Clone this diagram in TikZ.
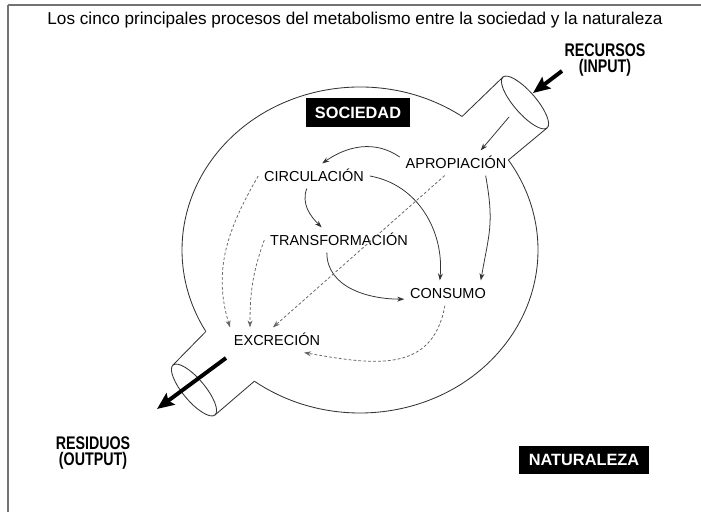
\documentclass[tikz,border=0pt]{standalone}
\usepackage{fontspec}
\setmainfont{Liberation Sans}
\newfontfamily\narrowsf[FakeStretch=0.78]{Liberation Sans}
\usetikzlibrary{arrows.meta,calc}

\begin{document}
\begin{tikzpicture}[x=0.025cm,y=0.025cm]
\tikzstyle{proc}=[inner xsep=4pt,inner ysep=5pt,text height=7.5pt,text depth=0pt,font=\fontsize{10.3}{12}\selectfont]
\tikzstyle{tag}=[fill=black,text=white,inner sep=0pt,font=\fontsize{11.6}{13}\selectfont\bfseries]
\tikzstyle{label}=[align=center,font=\narrowsf\bfseries\fontsize{13}{12}\selectfont]
\tikzstyle{procarrow}=[-{Stealth[length=5pt,width=3.5pt]},line width=0.55pt,black!80]
\tikzstyle{wastearrow}=[procarrow,dash pattern=on 2pt off 1.5pt,black!60]
\tikzstyle{bigarrow}=[-{Stealth[length=12pt,width=10pt,inset=2pt]},line width=2.8pt]
\tikzstyle{pipe}=[line width=0.6pt,black!80]
\useasboundingbox (0,0) rectangle (701,512);

% frame
\draw[black!55,line width=1pt] (8,507) -- (701,507);
\draw[black!55,line width=0.8pt] (8,507) -- (8,0);

\node (title) at (355,492) {\fontsize{12.2}{14}\selectfont Los cinco principales procesos del metabolismo entre la sociedad y la naturaleza};
\node (recursos) [label] at (605,452) {RECURSOS\\(INPUT)};
\node (residuos) [label] at (93,59) {RESIDUOS\\(OUTPUT)};
\node (soc) [tag,minimum width=2.6cm,minimum height=0.725cm] at (358,399) {SOCIEDAD};
\node (nat) [tag,minimum width=3.225cm,minimum height=0.675cm] at (584,52) {NATURALEZA};

% the society as a vessel with two pipes
\coordinate (hub) at (360,262);
\coordinate (tpa) at ($(hub)+(55:178 and 163)$);
\coordinate (tpb) at ($(hub)+(33.5:178 and 163)$);
\coordinate (bpa) at ($(hub)+(210:178 and 163)$);
\coordinate (bpb) at ($(hub)+(233.6:178 and 163)$);
\draw[pipe] (tpa) arc[start angle=55,end angle=210,x radius=178,y radius=163];
\draw[pipe] (bpb) arc[start angle=233.6,end angle=393.5,x radius=178,y radius=163];
\draw[pipe] (tpa) -- (503,435);
\draw[pipe] (tpb) -- (547,384);
\draw[pipe,rotate around={-49:(525,409.5)}] (525,409.5) ellipse [x radius=33.7,y radius=11];
\draw[pipe] (bpa) -- (173,147);
\draw[pipe] (bpb) -- (215,97);
\draw[pipe,rotate around={-50:(194,122)}] (194,122) ellipse [x radius=32.6,y radius=11];

% processes
\node (apro) [proc] at (456,349) {APROPIACIÓN};
\node (circ) [proc] at (314,336) {CIRCULACIÓN};
\node (trans) [proc] at (339,272) {TRANSFORMACIÓN};
\node (cons) [proc] at (448,219) {CONSUMO};
\node (excr) [proc] at (277,172) {EXCRECIÓN};

\coordinate (inlet) at (509,395);
\coordinate (intail) at (562,441);
\coordinate (inhead) at (533,419);
\coordinate (outtail) at (226,154);
\coordinate (outhead) at (157,103);

\draw[procarrow] (inlet) -- (apro.27);
\draw[procarrow] (apro.174) to[out=145,in=35] (circ.57);
\draw[procarrow] (circ.east) to[out=-10,in=85] (cons.123);
\draw[procarrow] (apro.-23) to[out=-80,in=80,looseness=1.2] (cons.21);
\draw[procarrow] (circ.-120) to[out=-110,in=135] (trans.144);
\draw[procarrow] (trans.-134) to[out=-90,in=180] (cons.188);
\draw[wastearrow] (circ.west) to[out=-120,in=107] (excr.165);
\draw[wastearrow] (trans.west) to[out=-110,in=90] (excr.155);
\draw[wastearrow] (apro.-132) -- (excr.108);
\draw[wastearrow] (cons.-104) to[out=-100,in=-10,looseness=1.2] (excr.-25);

\draw[bigarrow] (intail) -- (inhead);
\draw[bigarrow] (outtail) -- (outhead);
\end{tikzpicture}
\end{document}
